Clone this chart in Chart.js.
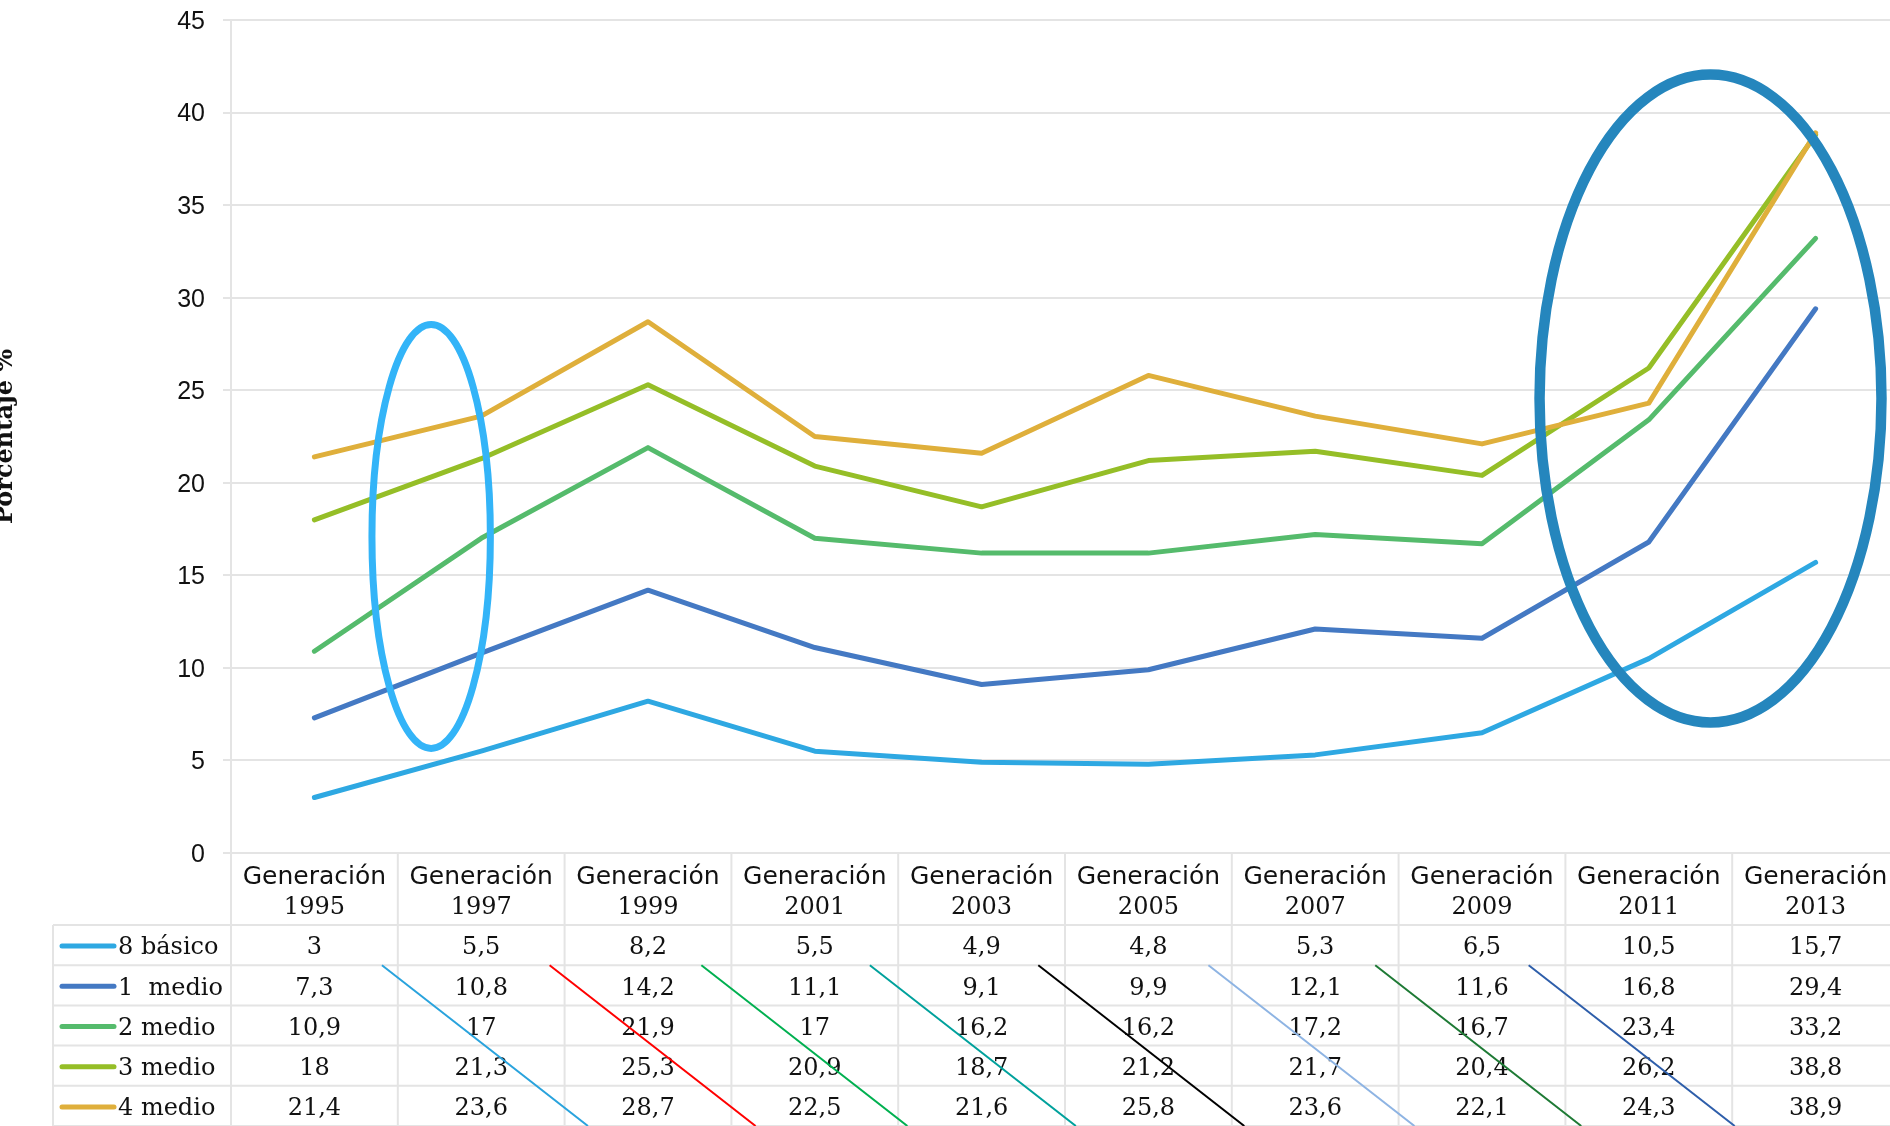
<!DOCTYPE html>
<html>
<head>
<meta charset="utf-8">
<script src="https://cdn.jsdelivr.net/npm/chart.js@4"></script>
<style>
  html, body { margin: 0; padding: 0; background: #fff; overflow: hidden; }
  #wrap { position: relative; width: 1890px; height: 1126px; overflow: hidden; }
  #wrap canvas { position: absolute; left: 0; top: 0; }
</style>
</head>
<body>
<div id="wrap"><canvas id="chart" width="1899" height="1126"></canvas></div>
<script>
// generaciones y porcentajes por curso
const generaciones = ['1995', '1997', '1999', '2001', '2003', '2005', '2007', '2009', '2011', '2013'];
const seriesNames = ['8 básico', '1  medio', '2 medio', '3 medio', '4 medio'];
const basico8 = [3, 5.5, 8.2, 5.5, 4.9, 4.8, 5.3, 6.5, 10.5, 15.7];
const medio1 = [7.3, 10.8, 14.2, 11.1, 9.1, 9.9, 12.1, 11.6, 16.8, 29.4];
const medio2 = [10.9, 17, 21.9, 17, 16.2, 16.2, 17.2, 16.7, 23.4, 33.2];
const medio3 = [18, 21.3, 25.3, 20.9, 18.7, 21.2, 21.7, 20.4, 26.2, 38.8];
const medio4 = [21.4, 23.6, 28.7, 22.5, 21.6, 25.8, 23.6, 22.1, 24.3, 38.9];
const yTicks = [0, 5, 10, 15, 20, 25, 30, 35, 40, 45];

const seriesColors = ['#2EA8E2', '#4479C3', '#55BB6C', '#95BE27', '#DFAF3B'];
const gridColor = '#e4e4e4';

// anotaciones: elipses (centro en indice de categoria / valor) y rayas sobre la tabla
const highlightEllipses = [
    { cx: 0.7, cy: 17.1, rx: 0.355, ry: 11.45, color: '#33B4F8', width: 7 },
    { cx: 8.37, cy: 24.55, rx: 1.025, ry: 17.5, color: '#2586BD', width: 10.5 }
];
const strikeStarts = [0.405, 1.41, 2.32, 3.33, 4.34, 5.36, 6.36, 7.28];
const strikeColors = ['#29A3DD', '#FF0000', '#00B050', '#00A19C', '#000000', '#8EB4E3', '#1E7A35', '#2E5EAA'];
const strikeSlant = 1.235; // columnas recorridas en 4 filas

const tableLayout = { headerH: 72, rowH: 40.2, legendLeft: 53 };

const fmt = v => String(v).replace('.', ',');

const tablePlugin = {
    id: 'dataTable',
    afterDraw(chart) {
        const { ctx, chartArea, scales: { x } } = chart;
        const colW = x.getPixelForValue(1) - x.getPixelForValue(0);
        const left = chartArea.left;
        const top = chartArea.bottom;
        const n = chart.data.labels.length;
        const right = left + n * colW;
        const rows = chart.data.datasets.length;
        const { headerH, rowH, legendLeft } = tableLayout;
        const bodyTop = top + headerH;
        const bottom = bodyTop + rows * rowH;

        ctx.save();
        ctx.strokeStyle = gridColor;
        ctx.lineWidth = 2;
        ctx.beginPath();
        for (let r = 0; r <= rows; r++) {
            const y = bodyTop + r * rowH;
            ctx.moveTo(legendLeft, y);
            ctx.lineTo(right, y);
        }
        ctx.moveTo(legendLeft, bodyTop);
        ctx.lineTo(legendLeft, bottom);
        for (let c = 0; c <= n; c++) {
            const xx = left + c * colW;
            ctx.moveTo(xx, top);
            ctx.lineTo(xx, bottom);
        }
        ctx.stroke();

        ctx.fillStyle = '#111';
        ctx.textAlign = 'center';
        ctx.textBaseline = 'middle';
        chart.data.labels.forEach((lab, i) => {
            const cx = x.getPixelForValue(i);
            ctx.font = '25px "DejaVu Sans"';
            ctx.fillText(lab[0], cx, top + 24);
            ctx.font = '24px "DejaVu Serif"';
            ctx.fillText(lab[1], cx, top + 55);
        });

        chart.data.datasets.forEach((ds, r) => {
            const cy = bodyTop + (r + 0.5) * rowH;
            ctx.font = '24px "DejaVu Serif"';
            ctx.textAlign = 'center';
            ds.data.forEach((v, i) => {
                ctx.fillText(fmt(v), x.getPixelForValue(i), cy + 3);
            });
            // clave de leyenda
            ctx.strokeStyle = ds.borderColor;
            ctx.lineWidth = 5;
            ctx.lineCap = 'round';
            ctx.beginPath();
            ctx.moveTo(legendLeft + 9, cy + 1);
            ctx.lineTo(legendLeft + 61, cy + 1);
            ctx.stroke();
            ctx.textAlign = 'left';
            ctx.fillText(ds.label, legendLeft + 65, cy + 3);
        });

        // rayas diagonales sobre la tabla
        ctx.lineWidth = 2;
        ctx.lineCap = 'butt';
        const y0 = bodyTop + rowH;
        const y1 = bodyTop + 5 * rowH;
        strikeStarts.forEach((s, k) => {
            ctx.strokeStyle = strikeColors[k];
            ctx.beginPath();
            ctx.moveTo(x.getPixelForValue(s), y0);
            ctx.lineTo(x.getPixelForValue(s + strikeSlant), y1);
            ctx.stroke();
        });
        ctx.restore();
    }
};

const ellipsePlugin = {
    id: 'highlightEllipses',
    afterDatasetsDraw(chart) {
        const { ctx, scales: { x, y } } = chart;
        const colW = x.getPixelForValue(1) - x.getPixelForValue(0);
        ctx.save();
        highlightEllipses.forEach(e => {
            const cx = x.getPixelForValue(e.cx);
            const cy = y.getPixelForValue(e.cy);
            const ry = y.getPixelForValue(0) - y.getPixelForValue(e.ry);
            ctx.strokeStyle = e.color;
            ctx.lineWidth = e.width;
            ctx.beginPath();
            ctx.ellipse(cx, cy, e.rx * colW, ry, 0, 0, Math.PI * 2);
            ctx.stroke();
        });
        ctx.restore();
    }
};

const seriesData = [basico8, medio1, medio2, medio3, medio4];

new Chart(document.getElementById('chart'), {
    type: 'line',
    data: {
        labels: generaciones.map(g => ['Generación', g]),
        datasets: seriesNames.map((name, i) => ({
            label: name,
            data: seriesData[i],
            borderColor: seriesColors[i],
            backgroundColor: seriesColors[i],
            borderWidth: 5,
            borderCapStyle: 'round',
            borderJoinStyle: 'round',
            pointRadius: 0,
            tension: 0,
            order: seriesNames.length - i
        }))
    },
    options: {
        responsive: false,
        animation: false,
        layout: { padding: { top: 20, bottom: 273, left: 0, right: 0 } },
        plugins: { legend: { display: false }, tooltip: { enabled: false } },
        scales: {
            x: { display: false, offset: true },
            y: {
                min: 0,
                max: 45,
                afterBuildTicks: s => { s.ticks = yTicks.map(v => ({ value: v })); },
                afterFit: s => {
                    s.width = 231;
                    s.paddingTop = 0;
                    s.paddingBottom = 0;
                },
                grid: { color: gridColor, lineWidth: 2, tickLength: 8 },
                border: { display: true, color: gridColor, width: 2 },
                ticks: { padding: 18, labelOffset: 2, color: '#111', font: { family: '"Liberation Sans"', size: 25 } },
                title: {
                    display: true,
                    text: 'Porcentaje %',
                    color: '#111',
                    font: { family: '"DejaVu Serif"', size: 24, weight: 'bold' },
                    padding: { top: -9, bottom: 0 }
                }
            }
        }
    },
    plugins: [ellipsePlugin, tablePlugin]
});
</script>
</body>
</html>
